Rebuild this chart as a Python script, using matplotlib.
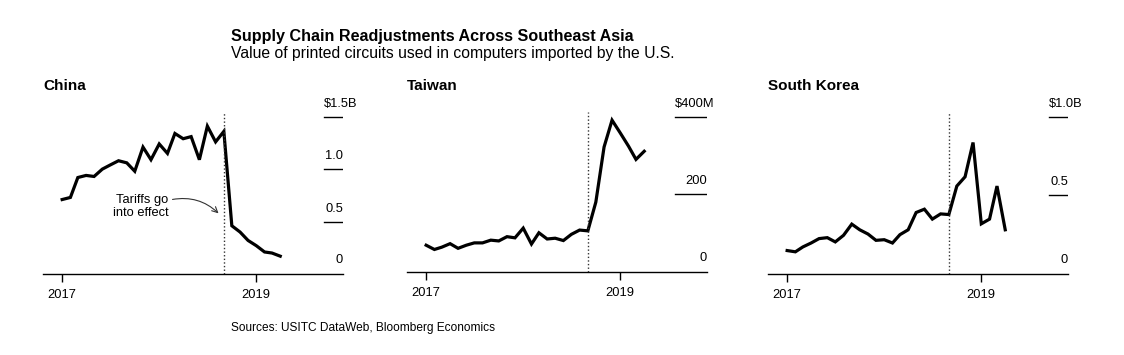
import matplotlib
matplotlib.use("Agg")
import matplotlib.pyplot as plt
import pandas as pd

plt.rcParams["font.family"] = ["Liberation Sans", "DejaVu Sans"]

# monthly values, Jan 2017 .. Apr 2019
months = pd.date_range("2017-01-01", periods=28, freq="MS")

china = [0.71, 0.73, 0.92, 0.94, 0.93, 1.00, 1.04, 1.08, 1.06, 0.98, 1.21, 1.09,
         1.24, 1.15, 1.34, 1.29, 1.31, 1.09, 1.41, 1.26, 1.36, 0.46, 0.40, 0.32,
         0.27, 0.21, 0.20, 0.17]
taiwan = [69, 58, 64, 73, 61, 69, 75, 75, 82, 80, 91, 88,
          113, 72, 101, 85, 87, 81, 97, 108, 106, 180, 322, 391,
          358, 324, 290, 311]
korea = [0.149, 0.141, 0.172, 0.197, 0.225, 0.231, 0.204, 0.246, 0.317, 0.281, 0.254, 0.214,
         0.218, 0.197, 0.250, 0.281, 0.391, 0.412, 0.349, 0.382, 0.378, 0.559, 0.618, 0.836,
         0.319, 0.349, 0.559, 0.281]

# name, data, label levels, labels, left px, baseline px, gridline length px
panels = [
    ("China", china, [0, 0.5, 1.0, 1.5], ["0", "0.5", "1.0", "$1.5B"], 43, 274, 19),
    ("Taiwan", taiwan, [0, 200, 400], ["0", "200", "$400M"], 407, 272, 32),
    ("South Korea", korea, [0, 0.5, 1.0], ["0", "0.5", "$1.0B"], 768, 274, 19),
]
tariff_date = pd.Timestamp("2018-09-01")

W, H = 1124, 355
fig = plt.figure(figsize=(W / 100, H / 100), dpi=100)

fig.text(231 / W, 1 - 41 / H, "Supply Chain Readjustments Across Southeast Asia",
         fontsize=11.6, fontweight="bold", va="baseline")
fig.text(231 / W, 1 - 58 / H, "Value of printed circuits used in computers imported by the U.S.",
         fontsize=11.3, va="baseline")
fig.text(231 / W, 1 - 331 / H, "Sources: USITC DataWeb, Bloomberg Economics",
         fontsize=8.6, va="baseline")

ax_w, top_px, top_grid_px = 300, 100, 116.7
small = 9.3

for name, vals, levels, labels, left, base, glen in panels:
    ax = fig.add_axes([left / W, (H - base) / H, ax_w / W, (base - top_px) / H])
    top = levels[-1]
    grid_frac = glen / ax_w
    ax.set_ylim(0, top * (base - top_px) / (base - top_grid_px))
    ax.set_xlim(pd.Timestamp("2016-10-21"), pd.Timestamp("2019-11-23"))

    ax.plot(months, vals, color="black", lw=2.3, solid_joinstyle="miter")
    ax.vlines(tariff_date, 0, top * 1.03, colors="#333333", lw=1,
              linestyles=(0, (1, 1.6)))

    for v, lab in zip(levels, labels):
        if v:
            ax.axhline(v, xmin=1 - grid_frac, xmax=1, color="black", lw=1)
        if lab.startswith("$"):
            ax.annotate(lab, xy=(1 - grid_frac, v), xycoords=("axes fraction", "data"),
                        xytext=(0, 4.5), textcoords="offset points",
                        ha="left", va="bottom", fontsize=small)
        else:
            ax.annotate(lab, xy=(1, v), xycoords=("axes fraction", "data"),
                        xytext=(0, 5 if v else 6), textcoords="offset points",
                        ha="right", va="bottom", fontsize=small)

    for s in ["top", "left", "right"]:
        ax.spines[s].set_visible(False)
    ax.spines["bottom"].set_linewidth(1)
    ax.set_yticks([])
    ax.set_xticks([pd.Timestamp("2017-01-01"), pd.Timestamp("2019-01-01")])
    ax.set_xticklabels(["2017", "2019"])
    ax.tick_params(axis="x", length=6, width=1, labelsize=small, pad=5)

    fig.text(left / W, 1 - 90 / H, name, fontsize=11, fontweight="bold", va="baseline")

    if name == "China":
        ax.text(pd.Timestamp("2018-02-05"), 0.643, "Tariffs go\ninto effect",
                ha="right", va="center", fontsize=small, linespacing=1.1)
        ax.annotate("", xy=(pd.Timestamp("2018-08-12"), 0.578),
                    xytext=(pd.Timestamp("2018-02-20"), 0.711),
                    arrowprops=dict(arrowstyle="->", color="#333333", lw=0.8,
                                    connectionstyle="arc3,rad=-0.25",
                                    shrinkA=0, shrinkB=0))

fig.savefig("out.png", dpi=100)
